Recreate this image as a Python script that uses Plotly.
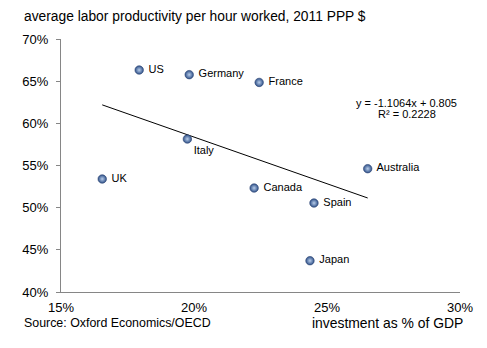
import numpy as np
import plotly.graph_objects as go

countries = ["US", "Germany", "France", "Italy", "UK", "Canada", "Spain", "Australia", "Japan"]
investment = [0.1794, 0.1982, 0.2245, 0.1975, 0.1655, 0.2226, 0.2451, 0.2653, 0.2436]
productivity = [0.6632, 0.6577, 0.6485, 0.5814, 0.5340, 0.5233, 0.5055, 0.5462, 0.4371]
label_pos = ["middle right"] * 9
label_pos[3] = "bottom right"
labels = [" " + c for c in countries]
labels[3] = countries[3]

slope, intercept, r2 = -1.1064, 0.805, 0.2228

FONT = "Liberation Sans, Arial, sans-serif"

fig = go.Figure()

xs = np.array([min(investment), max(investment)])
fig.add_trace(go.Scatter(
    x=xs, y=slope * xs + intercept, mode="lines",
    line=dict(color="#000000", width=1), hoverinfo="skip", showlegend=False))

fig.add_trace(go.Scatter(
    x=investment, y=productivity, mode="markers+text",
    text=labels, textposition=label_pos,
    textfont=dict(family=FONT, size=11, color="#000000"),
    marker=dict(size=8.5, color="#2f5189",
                gradient=dict(type="radial", color="#b8cdea"),
                line=dict(color="#2a4270", width=0.6)),
    showlegend=False))

fig.update_layout(
    width=487, height=348,
    margin=dict(l=61, r=27, t=39, b=56),
    paper_bgcolor="white", plot_bgcolor="white",
    font=dict(family=FONT, size=13, color="#000000"),
    xaxis=dict(range=[0.15, 0.30], dtick=0.05, tick0=0.15, tickformat=".0%",
               showgrid=False, zeroline=False, showline=True, linecolor="#868686",
               linewidth=1, ticks="", ticklabelstandoff=3,
               tickfont=dict(family=FONT, size=13)),
    yaxis=dict(range=[0.40, 0.70], dtick=0.05, tick0=0.40, tickformat=".0%",
               showgrid=False, zeroline=False, showline=True, linecolor="#868686",
               linewidth=1, ticks="outside", ticklen=4, tickcolor="#868686",
               ticklabelstandoff=5,
               tickfont=dict(family=FONT, size=13)),
    annotations=[
        dict(text="average labor productivity per hour worked, 2011 PPP $",
             xref="paper", yref="paper", x=-0.098, y=1.0, yshift=23,
             xanchor="left", yanchor="middle", showarrow=False,
             font=dict(family=FONT, size=13.8)),
        dict(text="Source: Oxford Economics/OECD", xref="paper", yref="paper",
             x=-0.098, y=0, yshift=-31, xanchor="left", yanchor="middle",
             showarrow=False, font=dict(family=FONT, size=12.4)),
        dict(text="investment as % of GDP", xref="paper", yref="paper",
             x=1.012, y=0, yshift=-31, xanchor="right", yanchor="middle",
             showarrow=False, font=dict(family=FONT, size=13.9)),
        dict(text=f"y = {slope}x + {intercept}",
             xref="paper", yref="paper", x=0.866, y=0.749, xanchor="center",
             yanchor="middle", showarrow=False,
             font=dict(family=FONT, size=11)),
        dict(text=f"R² = {r2}",
             xref="paper", yref="paper", x=0.866, y=0.703, xanchor="center",
             yanchor="middle", showarrow=False,
             font=dict(family=FONT, size=11)),
    ],
)

fig.write_html("out.html")
